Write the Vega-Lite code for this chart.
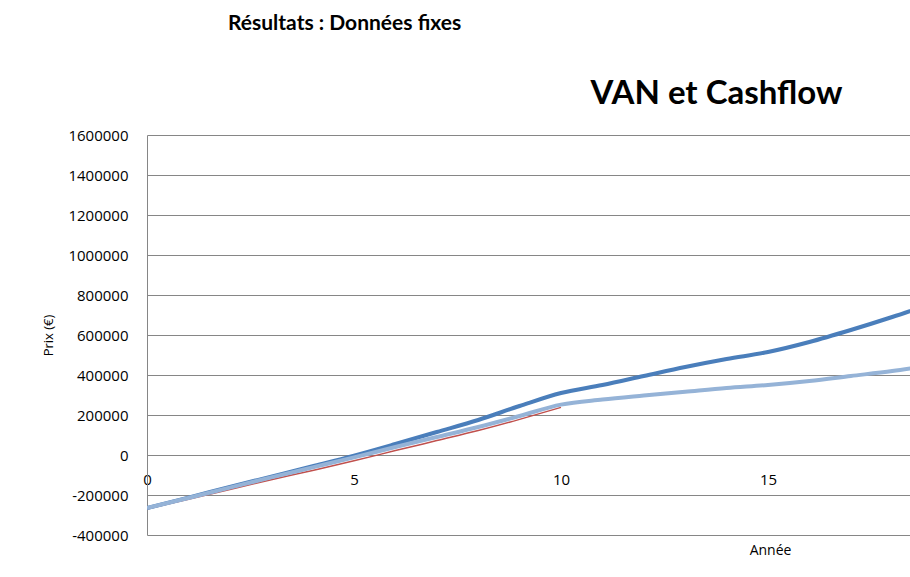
{
  "$schema": "https://vega.github.io/schema/vega-lite/v6.json",
  "autosize": {"type": "none"},
  "width": 763,
  "height": 400,
  "padding": {"left": 147, "top": 135, "right": 0, "bottom": 42},
  "background": "white",
  "config": {
    "view": {"stroke": null},
    "font": "Open Sans"
  },
  "title": {
    "text": "Résultats : Données fixes",
    "anchor": "start",
    "frame": "group",
    "dx": 81,
    "offset": 43,
    "font": "Lato",
    "fontSize": 21,
    "fontWeight": "bold",
    "color": "#000000"
  },
  "data": {
    "values": [
      {"annee": 0, "valeur": -265000, "serie": "VAN"},
      {"annee": 1, "valeur": -213000, "serie": "VAN"},
      {"annee": 2, "valeur": -160000, "serie": "VAN"},
      {"annee": 3, "valeur": -108000, "serie": "VAN"},
      {"annee": 4, "valeur": -56000, "serie": "VAN"},
      {"annee": 5, "valeur": -3000, "serie": "VAN"},
      {"annee": 6, "valeur": 55000, "serie": "VAN"},
      {"annee": 7, "valeur": 115000, "serie": "VAN"},
      {"annee": 8, "valeur": 175000, "serie": "VAN"},
      {"annee": 9, "valeur": 245000, "serie": "VAN"},
      {"annee": 10, "valeur": 310000, "serie": "VAN"},
      {"annee": 11, "valeur": 350000, "serie": "VAN"},
      {"annee": 12, "valeur": 395000, "serie": "VAN"},
      {"annee": 13, "valeur": 440000, "serie": "VAN"},
      {"annee": 14, "valeur": 480000, "serie": "VAN"},
      {"annee": 15, "valeur": 515000, "serie": "VAN"},
      {"annee": 16, "valeur": 565000, "serie": "VAN"},
      {"annee": 17, "valeur": 625000, "serie": "VAN"},
      {"annee": 18, "valeur": 690000, "serie": "VAN"},
      {"annee": 19, "valeur": 760000, "serie": "VAN"},
      {"annee": 0, "valeur": -265000, "serie": "Cashflow"},
      {"annee": 1, "valeur": -215000, "serie": "Cashflow"},
      {"annee": 2, "valeur": -163000, "serie": "Cashflow"},
      {"annee": 3, "valeur": -112000, "serie": "Cashflow"},
      {"annee": 4, "valeur": -62000, "serie": "Cashflow"},
      {"annee": 5, "valeur": -12000, "serie": "Cashflow"},
      {"annee": 6, "valeur": 40000, "serie": "Cashflow"},
      {"annee": 7, "valeur": 90000, "serie": "Cashflow"},
      {"annee": 8, "valeur": 140000, "serie": "Cashflow"},
      {"annee": 9, "valeur": 195000, "serie": "Cashflow"},
      {"annee": 10, "valeur": 252000, "serie": "Cashflow"},
      {"annee": 11, "valeur": 277000, "serie": "Cashflow"},
      {"annee": 12, "valeur": 297000, "serie": "Cashflow"},
      {"annee": 13, "valeur": 316000, "serie": "Cashflow"},
      {"annee": 14, "valeur": 335000, "serie": "Cashflow"},
      {"annee": 15, "valeur": 350000, "serie": "Cashflow"},
      {"annee": 16, "valeur": 370000, "serie": "Cashflow"},
      {"annee": 17, "valeur": 395000, "serie": "Cashflow"},
      {"annee": 18, "valeur": 420000, "serie": "Cashflow"},
      {"annee": 19, "valeur": 450000, "serie": "Cashflow"},
      {"annee": 0, "valeur": -270000, "serie": "Emprunt"},
      {"annee": 1, "valeur": -221000, "serie": "Emprunt"},
      {"annee": 2, "valeur": -172000, "serie": "Emprunt"},
      {"annee": 3, "valeur": -124000, "serie": "Emprunt"},
      {"annee": 4, "valeur": -77000, "serie": "Emprunt"},
      {"annee": 5, "valeur": -29000, "serie": "Emprunt"},
      {"annee": 6, "valeur": 22000, "serie": "Emprunt"},
      {"annee": 7, "valeur": 72000, "serie": "Emprunt"},
      {"annee": 8, "valeur": 122000, "serie": "Emprunt"},
      {"annee": 9, "valeur": 178000, "serie": "Emprunt"},
      {"annee": 10, "valeur": 238000, "serie": "Emprunt"}
    ]
  },
  "encoding": {
    "x": {
      "field": "annee",
      "type": "quantitative",
      "scale": {"domain": [0, 18.43], "nice": false, "zero": false}
    },
    "y": {
      "field": "valeur",
      "type": "quantitative",
      "scale": {"domain": [-400000, 1600000], "nice": false},
      "axis": {
        "values": [-400000, -200000, 0, 200000, 400000, 600000, 800000, 1000000, 1200000, 1400000, 1600000],
        "labelExpr": "'' + datum.value",
        "title": "Prix (€)",
        "titleFont": "Open Sans",
        "titleFontSize": 13,
        "titleFontWeight": "normal",
        "titleColor": "#000000",
        "titleX": -99,
        "titleY": 200,
        "titleAlign": "center",
        "titleBaseline": "middle",
        "titleAngle": -90,
        "labelFont": "Open Sans",
        "labelFontSize": 15,
        "labelColor": "#000000",
        "labelPadding": 19,
        "ticks": false,
        "tickSize": 0,
        "domain": true,
        "domainColor": "#868686",
        "domainWidth": 1,
        "grid": true,
        "gridColor": "#868686",
        "gridWidth": 1,
        "gridOpacity": 1
      }
    }
  },
  "layer": [
    {
      "transform": [{"filter": "datum.serie === 'Emprunt'"}],
      "mark": {"type": "line", "color": "#c0504d", "strokeWidth": 1.5, "interpolate": "monotone", "clip": true},
      "encoding": {
        "x": {
          "field": "annee",
          "type": "quantitative",
          "axis": {
            "values": [0, 5, 10, 15],
            "title": "Année",
            "titleFont": "Open Sans",
            "titleFontSize": 14,
            "titleFontWeight": "normal",
            "titleColor": "#000000",
            "titleX": 623,
            "titleY": 88,
            "titleAlign": "center",
            "titleBaseline": "top",
            "offset": -80,
            "labelFont": "Open Sans",
            "labelFontSize": 15,
            "labelColor": "#000000",
            "labelPadding": 17,
            "labelFlush": false,
            "ticks": false,
            "tickSize": 0,
            "domain": true,
            "domainColor": "#868686",
            "grid": false
          }
        }
      }
    },
    {
      "transform": [{"filter": "datum.serie === 'VAN'"}],
      "mark": {"type": "line", "color": "#4a7ebb", "strokeWidth": 4, "interpolate": "monotone", "clip": true},
      "encoding": {
        "x": {
          "field": "annee",
          "type": "quantitative",
          "axis": {
            "orient": "top",
            "title": "VAN et Cashflow",
            "titleFont": "Lato",
            "titleFontSize": 33,
            "titleFontWeight": "bold",
            "titleColor": "#000000",
            "titleX": 443,
            "titleY": -32,
            "titleAlign": "left",
            "titleBaseline": "alphabetic",
            "labels": false,
            "ticks": false,
            "domain": false,
            "grid": false
          }
        }
      }
    },
    {
      "transform": [{"filter": "datum.serie === 'Cashflow'"}],
      "mark": {"type": "line", "color": "#95b3d7", "strokeWidth": 4, "interpolate": "monotone", "clip": true},
      "encoding": {
        "x": {"field": "annee", "type": "quantitative", "axis": null}
      }
    }
  ],
  "resolve": {"axis": {"x": "independent"}}
}
